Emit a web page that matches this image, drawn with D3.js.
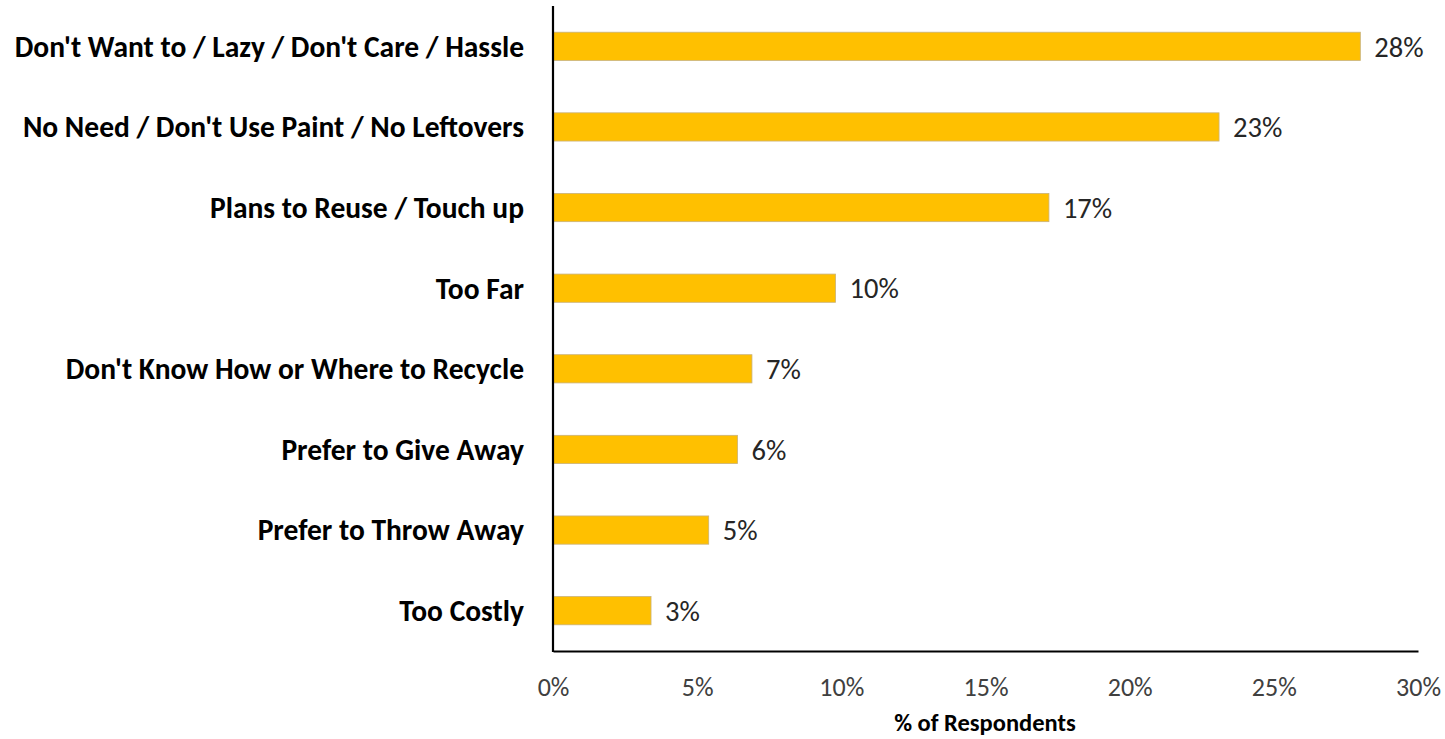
<!DOCTYPE html>
<html><head><meta charset="utf-8">
<script src="https://cdn.jsdelivr.net/npm/d3@7"></script>
<style>body{margin:0;background:#fff}svg{display:block}</style>
</head><body>
<svg id="chart" width="1445" height="739"></svg>
<script>
const categories = ["Don't Want to / Lazy / Don't Care / Hassle","No Need / Don't Use Paint / No Leftovers","Plans to Reuse / Touch up","Too Far","Don't Know How or Where to Recycle","Prefer to Give Away","Prefer to Throw Away","Too Costly"];
const values = [28.0, 23.1, 17.2, 9.8, 6.9, 6.4, 5.4, 3.4];
const valueLabels = ["28%","23%","17%","10%","7%","6%","5%","3%"];
const xTicks = [0,5,10,15,20,25,30];
const xTickLabels = ["0%","5%","10%","15%","20%","25%","30%"];
const xTitle = "% of Respondents";

const svg = d3.select("#chart");
const L = 553, R = 1418, T = 6, B = 651;
const x = d3.scaleLinear().domain([0,30]).range([L,R]);
const y = d3.scaleBand().domain(categories).range([T,B]).paddingInner(0.65).paddingOuter(0.325);
const font = "Carlito, Calibri, sans-serif";

svg.selectAll("rect.bar").data(categories).enter().append("rect")
  .attr("class","bar")
  .attr("x", x(0)).attr("y", d=>y(d))
  .attr("width", (d,i)=>x(values[i])-x(0)).attr("height", y.bandwidth())
  .attr("fill","#FFC000").attr("stroke","#c9b27a").attr("stroke-width",0.8);

svg.selectAll("text.val").data(categories).enter().append("text")
  .attr("class","val")
  .attr("x",(d,i)=>x(values[i])+14).attr("y",d=>y(d)+y.bandwidth()/2)
  .attr("dy","0.36em").attr("font-family",font).attr("font-size",28.5).attr("fill","#262626")
  .text((d,i)=>valueLabels[i]);

svg.selectAll("text.cat").data(categories).enter().append("text")
  .attr("class","cat")
  .attr("x",524).attr("y",d=>y(d)+y.bandwidth()/2).attr("dy","0.35em")
  .attr("text-anchor","end").attr("font-family",font).attr("font-weight","bold")
  .attr("font-size",29.5).attr("fill","#000").text(d=>d);

const xAxis = d3.axisBottom(x).tickValues(xTicks).tickFormat((d,i)=>xTickLabels[i]).tickSize(0).tickPadding(27);
const gx = svg.append("g").attr("transform",`translate(0,${B})`).call(xAxis);
gx.select(".domain").attr("stroke","#000").attr("stroke-width",2.2);
gx.selectAll("text").attr("font-family",font).attr("font-size",26).attr("fill","#404040");

svg.append("line").attr("x1",L).attr("x2",L).attr("y1",T).attr("y2",B+1).attr("stroke","#000").attr("stroke-width",2.2);

svg.append("text").attr("x",985).attr("y",731).attr("text-anchor","middle")
  .attr("font-family",font).attr("font-weight","bold").attr("font-size",24.5).attr("fill","#000").text(xTitle);
</script>
</body></html>
